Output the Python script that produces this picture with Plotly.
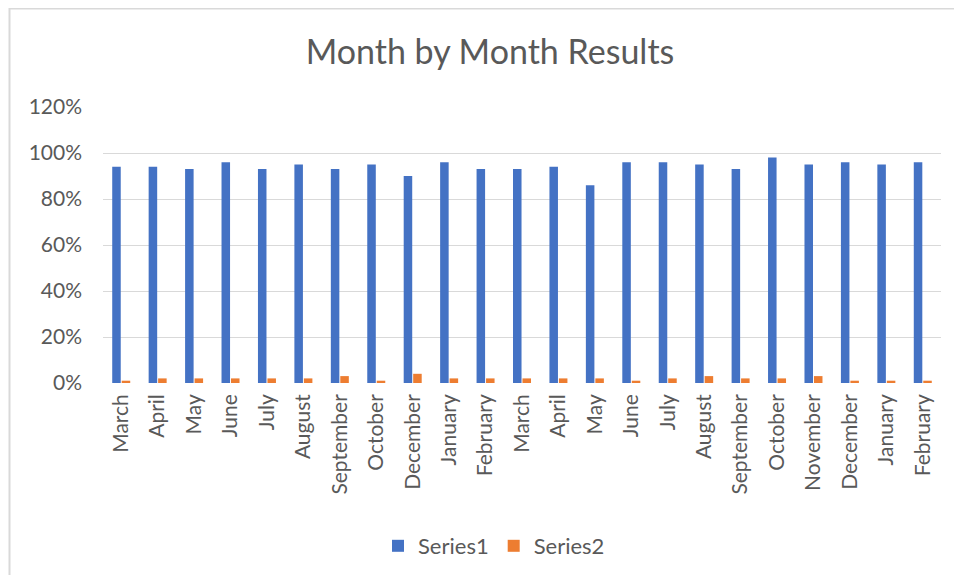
import plotly.graph_objects as go

months = ["March", "April", "May", "June", "July", "August", "September", "October",
          "December", "January", "February", "March", "April", "May", "June", "July",
          "August", "September", "October", "November", "December", "January", "February"]
series1 = [94, 94, 93, 96, 93, 95, 93, 95, 90, 96, 93, 93, 94, 86, 96, 96, 95, 93, 98, 95, 96, 95, 96]
series2 = [1, 2, 2, 2, 2, 2, 3, 1, 4, 2, 2, 2, 2, 2, 1, 2, 3, 2, 2, 3, 1, 1, 1]
y_ticks = [0, 20, 40, 60, 80, 100, 120]

xpos = list(range(len(months)))
s1 = [v / 100 for v in series1]
s2 = [v / 100 for v in series2]

FONT = "Lato"
GREY = "#595959"

fig = go.Figure()
fig.add_trace(go.Bar(x=xpos, y=s1, name="Series1", marker=dict(color="#4472C4", line=dict(width=0))))
fig.add_trace(go.Bar(x=xpos, y=s2, name="Series2", marker=dict(color="#ED7D31", line=dict(width=0))))

OFF = 8  # page body margin offset
W, H = 962 - OFF, 575 - OFF
# target pixel positions (page coords) of the plot area
PL, PR, PT, PB = 103, 941, 107, 383
L, R, T, B = PL - OFF, W - (PR - OFF), PT - OFF, H - (PB - OFF)
pw, ph = W - L - R, H - T - B

def px2x(px):
    return (px - OFF - L) / pw

def py2y(py):
    return (H - B - (py - OFF)) / ph

fig.update_layout(
    width=W, height=H,
    margin=dict(l=L, r=R, t=T, b=B, autoexpand=False),
    paper_bgcolor="white", plot_bgcolor="white",
    font=dict(family=FONT, color=GREY, size=21),
    barmode="group", bargap=0.48, bargroupgap=0.1,
    title=dict(text="Month by Month Results", font=dict(family=FONT, size=34, color=GREY),
               x=px2x(490), xref="paper", xanchor="center",
               y=1 - (52 - OFF) / H, yref="container", yanchor="middle"),
    showlegend=True,
    legend=dict(orientation="h", x=px2x(494), xanchor="center", y=py2y(546), yanchor="middle",
                font=dict(family=FONT, size=22, color=GREY), bgcolor="rgba(0,0,0,0)",
                itemwidth=30, traceorder="normal"),
    xaxis=dict(tickmode="array", tickvals=xpos, ticktext=months, tickangle=-90,
               range=[-0.5, len(months) - 0.5], showgrid=False, zeroline=False,
               showline=False, ticks="", ticklabelstandoff=6,
               tickfont=dict(family=FONT, size=21, color=GREY)),
    yaxis=dict(range=[0, 1.2], tickmode="array", tickvals=[t / 100 for t in y_ticks],
               ticktext=[f"{t}%" for t in y_ticks], showgrid=True, gridcolor="#d9d9d9",
               gridwidth=1, zeroline=False, showline=False, ticks="",
               ticklabelstandoff=20, tickfont=dict(family=FONT, size=21, color=GREY)),
)

# chart-area border (left and top edges visible in the reference)
fig.add_shape(type="line", xref="paper", yref="paper", x0=px2x(9), x1=px2x(990),
              y0=py2y(8.5), y1=py2y(8.5), line=dict(color="#d9d9d9", width=2), layer="below")
fig.add_shape(type="line", xref="paper", yref="paper", x0=px2x(9.5), x1=px2x(9.5),
              y0=py2y(8), y1=py2y(620), line=dict(color="#d9d9d9", width=2), layer="below")

fig.write_html("out.html")
